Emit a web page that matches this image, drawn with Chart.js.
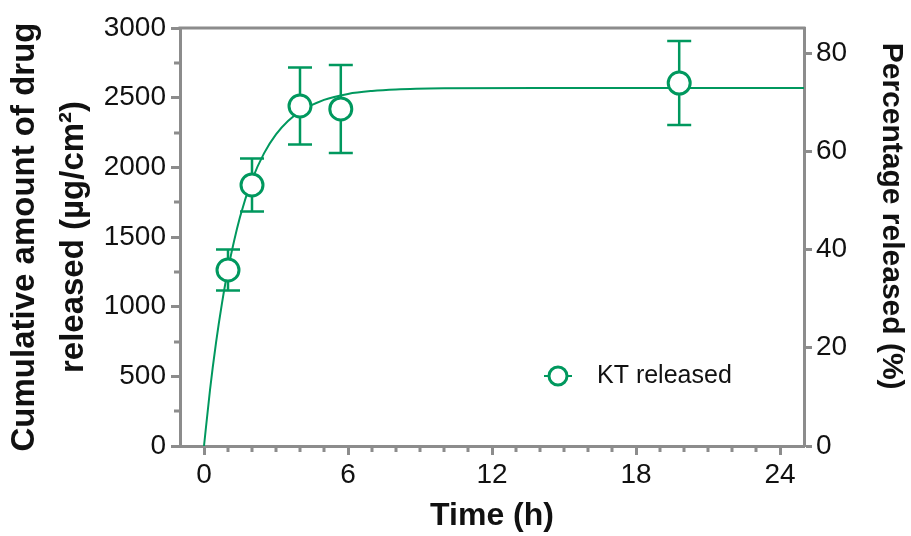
<!DOCTYPE html>
<html>
<head>
<meta charset="utf-8">
<script src="https://cdn.jsdelivr.net/npm/chart.js@4"></script>
<style>
  html, body { margin: 0; padding: 0; background: #fff; }
</style>
</head>
<body>
<canvas id="release-chart" width="911" height="536"></canvas>
<script>
// measured release points (h, ug/cm2) and their error bars
const timeH = [1, 2, 4, 5.7, 19.8];
const amountReleased = [1263, 1873, 2440, 2419, 2605];
const amountSD = [147, 190, 277, 316, 301];

// fitted curve
const fitTime = [0, 0.25, 0.5, 0.75, 1, 1.5, 2, 2.5, 3, 3.5, 4, 5, 6, 7, 8, 10, 14, 20, 25];
const fitAmount = [0, 402, 740, 1026, 1267, 1643, 1910, 2100, 2236, 2332, 2400, 2484, 2527, 2548, 2559, 2567, 2570, 2570, 2570];

const seriesLabel = 'KT released';
const xTitle = 'Time (h)';
const yTitle = ['Cumulative amount of drug', 'released (\u00b5g/cm\u00b2)'];
const y2Title = 'Percentage released (%)\u00a0\u00a0\u00a0\u00a0\u00a0';

const green = 'rgb(0, 152, 94)';
const axisGray = '#8c8c8c';
const fontFamily = '"Liberation Sans", Arial, sans-serif';

// error bars, minor ticks, top frame line and the legend
const extras = {
    id: 'extras',
    afterDatasetDraw(chart, args) {
        if (args.index !== 1) return;
        const ctx = chart.ctx;
        const x = chart.scales.x, y = chart.scales.y;
        ctx.save();
        ctx.strokeStyle = green;
        ctx.lineWidth = 2.5;
        timeH.forEach((t, i) => {
            const px = x.getPixelForValue(t);
            const top = y.getPixelForValue(amountReleased[i] + amountSD[i]);
            const bot = y.getPixelForValue(amountReleased[i] - amountSD[i]);
            ctx.beginPath();
            ctx.moveTo(px, top); ctx.lineTo(px, bot);
            ctx.moveTo(px - 12, top); ctx.lineTo(px + 12, top);
            ctx.moveTo(px - 12, bot); ctx.lineTo(px + 12, bot);
            ctx.stroke();
        });
        ctx.restore();
    },
    afterDraw(chart) {
        const ctx = chart.ctx;
        const area = chart.chartArea;
        const x = chart.scales.x, y = chart.scales.y;
        ctx.save();
        ctx.strokeStyle = axisGray;
        ctx.lineWidth = 3;
        ctx.beginPath();
        for (let t = 1; t < 25; t++) {
            if (t % 6 === 0) continue;
            const px = Math.round(x.getPixelForValue(t));
            ctx.moveTo(px, area.bottom); ctx.lineTo(px, area.bottom + 6);
        }
        for (let v = 250; v < 3000; v += 500) {
            const py = Math.round(y.getPixelForValue(v));
            ctx.moveTo(area.left, py); ctx.lineTo(area.left - 6, py);
        }
        ctx.moveTo(area.left - 1.5, area.top); ctx.lineTo(area.right + 1.5, area.top);
        ctx.stroke();

        // legend
        const lx = 558, ly = 376;
        ctx.strokeStyle = green;
        ctx.lineWidth = 2;
        ctx.beginPath();
        ctx.moveTo(lx - 14, ly); ctx.lineTo(lx + 14, ly);
        ctx.stroke();
        ctx.beginPath();
        ctx.lineWidth = 3;
        ctx.fillStyle = '#fff';
        ctx.arc(lx, ly, 9, 0, Math.PI * 2);
        ctx.fill();
        ctx.stroke();
        ctx.fillStyle = '#111';
        ctx.font = '25px ' + fontFamily;
        ctx.textBaseline = 'middle';
        ctx.fillText(seriesLabel, 597, ly);
        ctx.restore();
    }
};

const tickFont = { family: fontFamily, size: 28 };
const plainTicks = v => String(v);

new Chart(document.getElementById('release-chart').getContext('2d'), {
    type: 'scatter',
    data: {
        datasets: [{
            label: seriesLabel,
            data: timeH.map((t, i) => ({ x: t, y: amountReleased[i] })),
            borderColor: green,
            backgroundColor: '#fff',
            pointRadius: 11,
            pointHoverRadius: 11,
            pointBorderWidth: 3,
            showLine: false
        }, {
            label: 'fit',
            data: fitTime.map((t, i) => ({ x: t, y: fitAmount[i] })),
            borderColor: green,
            borderWidth: 2,
            pointRadius: 0,
            showLine: true,
            cubicInterpolationMode: 'monotone'
        }]
    },
    options: {
        responsive: false,
        animation: false,
        events: [],
        layout: { padding: { top: 28, left: 0, right: 0, bottom: 0 } },
        plugins: { legend: { display: false }, tooltip: { enabled: false } },
        scales: {
            x: {
                type: 'linear',
                min: -1,
                max: 25,
                afterFit: s => { s.height = 90; },
                border: { color: axisGray, width: 3 },
                grid: { drawOnChartArea: false, color: axisGray, tickLength: 9, tickWidth: 3 },
                ticks: { stepSize: 6, includeBounds: false, color: '#111', font: tickFont, padding: 3, callback: plainTicks },
                title: { display: true, text: xTitle, color: '#111', font: { family: fontFamily, size: 32, weight: 'bold' }, padding: { top: 0, bottom: 1 } }
            },
            y: {
                position: 'left',
                min: 0,
                max: 3000,
                afterFit: s => { s.width = 180; },
                border: { color: axisGray, width: 3 },
                grid: { drawOnChartArea: false, color: axisGray, tickLength: 9, tickWidth: 3 },
                ticks: { stepSize: 500, color: '#111', font: tickFont, padding: 5, callback: plainTicks },
                title: { display: true, text: yTitle, color: '#111', font: { family: fontFamily, size: 33, weight: 'bold', lineHeight: 1.5 }, padding: { top: 0, bottom: 0 } }
            },
            y2: {
                position: 'right',
                min: 0,
                max: 85.1,
                afterFit: s => { s.width = 107; },
                border: { color: axisGray, width: 3 },
                grid: { drawOnChartArea: false, color: axisGray, tickLength: 8, tickWidth: 3 },
                ticks: { stepSize: 20, includeBounds: false, color: '#111', font: tickFont, padding: 4, callback: plainTicks },
                title: { display: true, text: y2Title, color: '#111', font: { family: fontFamily, size: 30, weight: 'bold' }, padding: { top: 2, bottom: 0 } }
            }
        }
    },
    plugins: [extras]
});
</script>
</body>
</html>
